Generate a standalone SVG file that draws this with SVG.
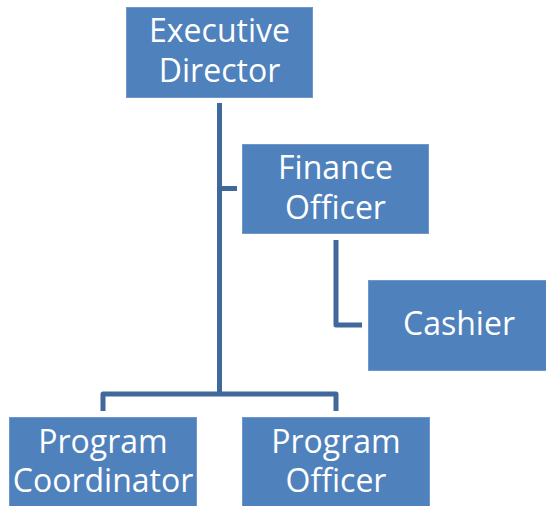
<svg xmlns="http://www.w3.org/2000/svg" width="546" height="506" viewBox="0 0 546 506">
  <style>
    .box { fill: #4F81BD; stroke: #6F97C9; stroke-width: 1; }
    .label { fill: #FFFFFF; font-family: "Open Sans", "Liberation Sans", sans-serif; font-size: 32px; text-anchor: middle; }
    .link { fill: none; stroke: #41689A; stroke-width: 5; stroke-linejoin: round; }
  </style>
  <rect width="546" height="506" fill="#FFFFFF"/>

  <!-- reporting lines -->
  <g id="connectors">
    <path class="link" d="M219.5,103 V394"/>
    <path class="link" d="M219.5,188.5 H237"/>
    <path class="link" d="M103,411 V394 H336 V411"/>
    <path class="link" d="M336,240 V325 H362"/>
  </g>

  <g id="executive-director">
    <rect class="box" x="126.5" y="7.5" width="186" height="90"/>
    <text class="label" x="219.5" y="42">Executive</text>
    <text class="label" x="219.5" y="82">Director</text>
  </g>

  <g id="finance-officer">
    <rect class="box" x="242.5" y="144.5" width="186" height="89"/>
    <text class="label" x="335.5" y="178.5">Finance</text>
    <text class="label" x="335.5" y="218.5">Officer</text>
  </g>

  <g id="cashier">
    <rect class="box" x="368.5" y="280.5" width="180" height="90"/>
    <text class="label" x="459" y="335">Cashier</text>
  </g>

  <g id="program-coordinator">
    <rect class="box" x="9.5" y="417.5" width="187" height="92"/>
    <text class="label" x="103" y="453">Program</text>
    <text class="label" x="103" y="492">Coordinator</text>
  </g>

  <g id="program-officer">
    <rect class="box" x="242.5" y="417.5" width="187" height="92"/>
    <text class="label" x="336" y="453">Program</text>
    <text class="label" x="336" y="492">Officer</text>
  </g>
</svg>
